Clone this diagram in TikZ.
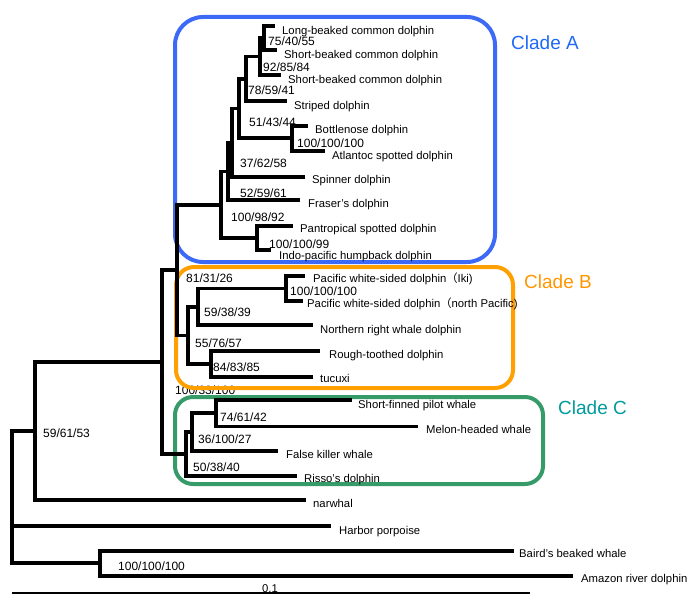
\documentclass[tikz,border=0pt]{standalone}
\usepackage{fontspec}
\setmainfont{Liberation Sans}
\newfontfamily\cjkfont{Noto Sans CJK SC}
\definecolor{boxA}{RGB}{60,105,245}
\definecolor{boxB}{RGB}{255,160,0}
\definecolor{boxC}{RGB}{55,155,105}
\definecolor{txtA}{RGB}{30,105,245}
\definecolor{txtB}{RGB}{255,150,0}
\definecolor{txtC}{RGB}{0,155,155}
\begin{document}
\begin{tikzpicture}[x=1pt,y=-1pt,
  br/.style={line width=3.2pt, line join=miter},
  leaf/.style={anchor=base west, inner sep=0pt, font=\fontsize{11.3}{13}\selectfont},
  boot/.style={anchor=base west, inner sep=0pt, font=\fontsize{12}{14}\selectfont},
  clade/.style={anchor=base west, inner sep=0pt, font=\fontsize{19}{22}\selectfont},
  cladebox/.style={line width=4pt, rounded corners=#1}]
\useasboundingbox (0,0) rectangle (688,594);

% label partly under the orange frame
\node[boot] (b15) at (175,394.3) {100/33/100};

% clade frames
\draw[cladebox=28pt, boxA] (175,17) rectangle (495,262);
\draw[cladebox=18pt, boxB] (176,267) rectangle (513,388);
\draw[cladebox=18pt, boxC] (175,397) rectangle (543,484);
\node[clade, text=txtA] (cA) at (511,50) {Clade A};
\node[clade, text=txtB] (cB) at (524,288) {Clade B};
\node[clade, text=txtC] (cC) at (558,414) {Clade C};

% leaf tips
\coordinate (L1) at (275,26);
\coordinate (L2) at (277,50);
\coordinate (L3) at (281,75);
\coordinate (L4) at (287,101);
\coordinate (L5) at (308,126);
\coordinate (L6) at (325,151);
\coordinate (L7) at (305,177);
\coordinate (L8) at (300,200);
\coordinate (L9) at (293,226);
\coordinate (L10) at (271,250);
\coordinate (L11) at (305,276);
\coordinate (L12) at (303,301);
\coordinate (L13) at (313,325);
\coordinate (L14) at (320,351);
\coordinate (L15) at (313,377);
\coordinate (L16) at (352,400);
\coordinate (L17) at (418,426.5);
\coordinate (L18) at (278,451);
\coordinate (L19) at (297,476);
\coordinate (L20) at (306,500);
\coordinate (L21) at (331,526);
\coordinate (L22) at (514,551);
\coordinate (L23) at (573,576);

% internal nodes
\coordinate (n1) at (264,38);
\coordinate (n2) at (260,56.5);
\coordinate (n3) at (246,79);
\coordinate (nBA) at (292,138);
\coordinate (n4) at (239,108.5);
\coordinate (n5) at (232,143);
\coordinate (n6) at (228,171.5);
\coordinate (nPI) at (257,238);
\coordinate (nA) at (221,205);
\coordinate (nPW) at (286,288.5);
\coordinate (nNR) at (198,307);
\coordinate (nRT) at (211,364);
\coordinate (nB) at (188,335.5);
\coordinate (nAB) at (177,270);
\coordinate (nPM) at (216,413);
\coordinate (nPMF) at (192,432);
\coordinate (nC) at (186,454);
\coordinate (nABC) at (162,362);
\coordinate (nN) at (35,431);
\coordinate (nBR) at (100,563);
\coordinate (root) at (12,497);

% branches
\draw[br] (n1) |- (L1);   \draw[br] (n1) |- (L2);
\draw[br] (n2) |- (n1);   \draw[br] (n2) |- (L3);
\draw[br] (n3) |- (n2);   \draw[br] (n3) |- (L4);
\draw[br] (nBA) |- (L5);  \draw[br] (nBA) |- (L6);
\draw[br] (n4) |- (n3);   \draw[br] (n4) |- (nBA);
\draw[br] (n5) |- (n4);   \draw[br] (n5) |- (L7);
\draw[br] (n6) |- (n5);   \draw[br] (n6) |- (L8);
\draw[br] (nPI) |- (L9);  \draw[br] (nPI) |- (L10);
\draw[br] (nA) |- (n6);   \draw[br] (nA) |- (nPI);
\draw[br] (nPW) |- (L11); \draw[br] (nPW) |- (L12);
\draw[br] (nNR) |- (nPW); \draw[br] (nNR) |- (L13);
\draw[br] (nRT) |- (L14); \draw[br] (nRT) |- (L15);
\draw[br] (nB) |- (nNR);  \draw[br] (nB) |- (nRT);
\draw[br] (nAB) |- (nA);  \draw[br] (nAB) |- (nB);
\draw[br] (nPM) |- (L16); \draw[br] (nPM) |- (L17);
\draw[br] (nPMF) |- (nPM); \draw[br] (nPMF) |- (L18);
\draw[br] (nC) |- (nPMF); \draw[br] (nC) |- (L19);
\draw[br] (nABC) |- (nAB); \draw[br] (nABC) |- (nC);
\draw[br] (nN) |- (nABC); \draw[br] (nN) |- (L20);
\draw[br] (nBR) |- (L22); \draw[br] (nBR) |- (L23);
\draw[br] (root) |- (nN); \draw[br] (root) |- (L21); \draw[br] (root) |- (nBR);

% scale bar
\coordinate (s0) at (12,593);
\coordinate (s1) at (530,593);
\draw[line width=1.5pt] (s0) -- (s1);
\node[leaf] (sc) at (262,592) {0.1};

% leaf labels
\node[leaf] (t1) at (282,35) {Long-beaked common dolphin};
\node[leaf] (t2) at (284,59) {Short-beaked common dolphin};
\node[leaf] (t3) at (288,83) {Short-beaked common dolphin};
\node[leaf] (t4) at (294,109) {Striped dolphin};
\node[leaf] (t5) at (315,133) {Bottlenose dolphin};
\node[leaf] (t6) at (332,159) {Atlantoc spotted dolphin};
\node[leaf] (t7) at (312,183) {Spinner dolphin};
\node[leaf] (t8) at (308,207) {Fraser's dolphin};
\node[leaf] (t9) at (300,232) {Pantropical spotted dolphin};
\node[leaf] (t10) at (279,259) {Indo-pacific humpback dolphin};
\node[leaf] (t11) at (313,282) {Pacific white-sided dolphin{\cjkfont （}Iki)};
\node[leaf] (t12) at (307,307.5) {Pacific white-sided dolphin{\cjkfont （}north Pacific)};
\node[leaf] (t13) at (320,333) {Northern right whale dolphin};
\node[leaf] (t14) at (329,358) {Rough-toothed dolphin};
\node[leaf] (t15) at (320,382) {tucuxi};
\node[leaf] (t16) at (358,408) {Short-finned pilot whale};
\node[leaf] (t17) at (426,433) {Melon-headed whale};
\node[leaf] (t18) at (286,458) {False killer whale};
\node[leaf] (t19) at (304,482) {Risso's dolphin};
\node[leaf] (t20) at (313,507) {narwhal};
\node[leaf] (t21) at (339,534) {Harbor porpoise};
\node[leaf] (t22) at (519,557) {Baird's beaked whale};
\node[leaf] (t23) at (581,582) {Amazon river dolphin};

% bootstrap values
\node[boot] (b1) at (268,46) {75/40/55};
\node[boot] (b2) at (263,71) {92/85/84};
\node[boot] (b3) at (248,94.3) {78/59/41};
\node[boot] (b4) at (249,126.8) {51/43/44};
\node[boot] (b5) at (297,147.3) {100/100/100};
\node[boot] (b6) at (240,167.3) {37/62/58};
\node[boot] (b7) at (240,197.3) {52/59/61};
\node[boot] (b8) at (231,221.3) {100/98/92};
\node[boot] (b9) at (269,248) {100/100/99};
\node[boot] (b10) at (186,282.3) {81/31/26};
\node[boot] (b11) at (290,295.5) {100/100/100};
\node[boot] (b12) at (204,316.3) {59/38/39};
\node[boot] (b13) at (195,347.3) {55/76/57};
\node[boot] (b14) at (213,371.3) {84/83/85};
\node[boot] (b16) at (220,421.3) {74/61/42};
\node[boot] (b17) at (198,443.3) {36/100/27};
\node[boot] (b18) at (193,471.3) {50/38/40};
\node[boot] (b19) at (43,437.3) {59/61/53};
\node[boot] (b20) at (118,570.3) {100/100/100};
\end{tikzpicture}
\end{document}
